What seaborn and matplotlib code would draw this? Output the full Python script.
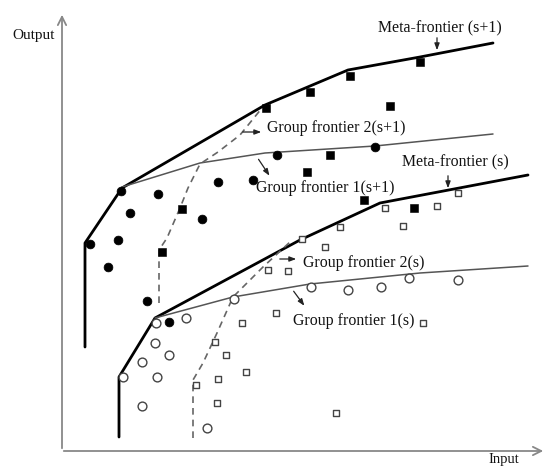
import pandas as pd
import matplotlib
matplotlib.use('Agg')
import matplotlib.pyplot as plt
import seaborn as sns

# coordinates (pixel-like units, y grows downwards)
meta_s1_x = [85, 85, 122, 265, 348, 420, 493]
meta_s1_y = [347, 243, 188, 105, 70, 57, 43]
group1_s1_x = [122, 200, 265, 375, 493]
group1_s1_y = [187, 163, 153, 146, 134]
group2_s1_x = [159, 159, 167, 180, 188, 200, 218, 240, 262]
group2_s1_y = [303, 250, 238, 208, 188, 164, 152, 135, 108]

meta_s_x = [119, 119, 155, 300, 380, 528]
meta_s_y = [437, 377, 318, 240, 203, 175]
group1_s_x = [155, 233, 310, 420, 528]
group1_s_y = [318, 297, 284, 273, 266]
group2_s_x = [193, 193, 203, 217, 233, 263, 290]
group2_s_y = [438, 380, 363, 333, 297, 267, 242]

filled_circle_x = [121, 158, 130, 202, 218, 253, 277, 375, 118, 90, 108, 147, 169]
filled_circle_y = [191, 194, 213, 219, 182, 180, 155, 147, 240, 244, 267, 301, 322]
filled_square_x = [266, 310, 350, 420, 390, 330, 307, 182, 162, 364, 414]
filled_square_y = [108, 92, 76, 62, 106, 155, 172, 209, 252, 200, 208]
hollow_circle_x = [156, 186, 155, 169, 142, 123, 157, 142, 207, 234, 311, 348, 381, 409, 458]
hollow_circle_y = [323, 318, 343, 355, 362, 377, 377, 406, 428, 299, 287, 290, 287, 278, 280]
hollow_square_x = [458, 385, 437, 403, 340, 302, 325, 288, 268, 242, 276, 215, 226, 246,
                   218, 196, 217, 423, 336]
hollow_square_y = [193, 208, 206, 226, 227, 239, 247, 271, 270, 323, 313, 342, 355, 372,
                   379, 385, 403, 323, 413]

sns.set_style('white')
plt.rcParams['font.family'] = ['Liberation Serif', 'DejaVu Serif']

fig = plt.figure(figsize=(5.47, 4.67), dpi=100)
ax = fig.add_axes([0, 0, 1, 1])

# frontiers
def frontier(xs, ys, **kw):
    sns.lineplot(x=xs, y=ys, sort=False, estimator=None, errorbar=None, ax=ax, **kw)

frontier(meta_s1_x, meta_s1_y, color='black', lw=2.0)
frontier(meta_s_x, meta_s_y, color='black', lw=2.0)
frontier(group1_s1_x, group1_s1_y, color='#555555', lw=1.1)
frontier(group1_s_x, group1_s_y, color='#555555', lw=1.1)
frontier(group2_s1_x, group2_s1_y, color='#666666', lw=1.2, linestyle=(0, (4, 3)))
frontier(group2_s_x, group2_s_y, color='#666666', lw=1.2, linestyle=(0, (4, 3)))

# observations
sns.scatterplot(x=filled_circle_x, y=filled_circle_y, marker='o', s=40, color='black',
                edgecolor='black', ax=ax, zorder=3)
sns.scatterplot(x=filled_square_x, y=filled_square_y, marker='s', s=26, color='black',
                edgecolor='black', ax=ax, zorder=3)
sns.scatterplot(x=hollow_circle_x, y=hollow_circle_y, marker='o', s=40, facecolor='white',
                edgecolor='#444444', linewidth=1.0, ax=ax, zorder=3)
sns.scatterplot(x=hollow_square_x, y=hollow_square_y, marker='s', s=24, facecolor='white',
                edgecolor='#444444', linewidth=1.0, ax=ax, zorder=3)

# axes with arrows
axis_style = dict(arrowstyle='->,head_length=0.6,head_width=0.3', color='#888888', lw=1.3)
ax.annotate('', xy=(62, 12), xytext=(62, 451), arrowprops=axis_style)
ax.annotate('', xy=(546, 451), xytext=(61, 451), arrowprops=axis_style)
ax.text(12, 36, 'Output', fontsize=11, va='center', ha='left', color='#111111')
ax.text(488, 459, 'Input', fontsize=10.5, va='center', ha='left', color='#111111')

# labels
lab = dict(fontsize=11.4, va='center', ha='left', color='#111111')
arr = dict(arrowstyle='-|>,head_length=0.4,head_width=0.15', color='#222222', lw=0.9)
ax.text(378, 28, 'Meta-frontier (s+1)', **lab)
ax.annotate('', xy=(437, 53), xytext=(437, 35), arrowprops=arr)
ax.text(267, 128, 'Group frontier 2(s+1)', **lab)
ax.annotate('', xy=(264, 132), xytext=(240, 132), arrowprops=arr)
ax.text(256, 188, 'Group frontier 1(s+1)', **lab)
ax.annotate('', xy=(271, 178), xytext=(257, 157), arrowprops=arr)
ax.text(402, 162, 'Meta-frontier (s)', **lab)
ax.annotate('', xy=(448, 191), xytext=(448, 173), arrowprops=arr)
ax.text(303, 263, 'Group frontier 2(s)', **lab)
ax.annotate('', xy=(299, 259), xytext=(277, 259), arrowprops=arr)
ax.text(293, 321, 'Group frontier 1(s)', **lab)
ax.annotate('', xy=(306, 308), xytext=(292, 289), arrowprops=arr)

ax.set_xlim(0, 547)
ax.set_ylim(467, 0)
ax.axis('off')

fig.savefig('out.png', dpi=100)
